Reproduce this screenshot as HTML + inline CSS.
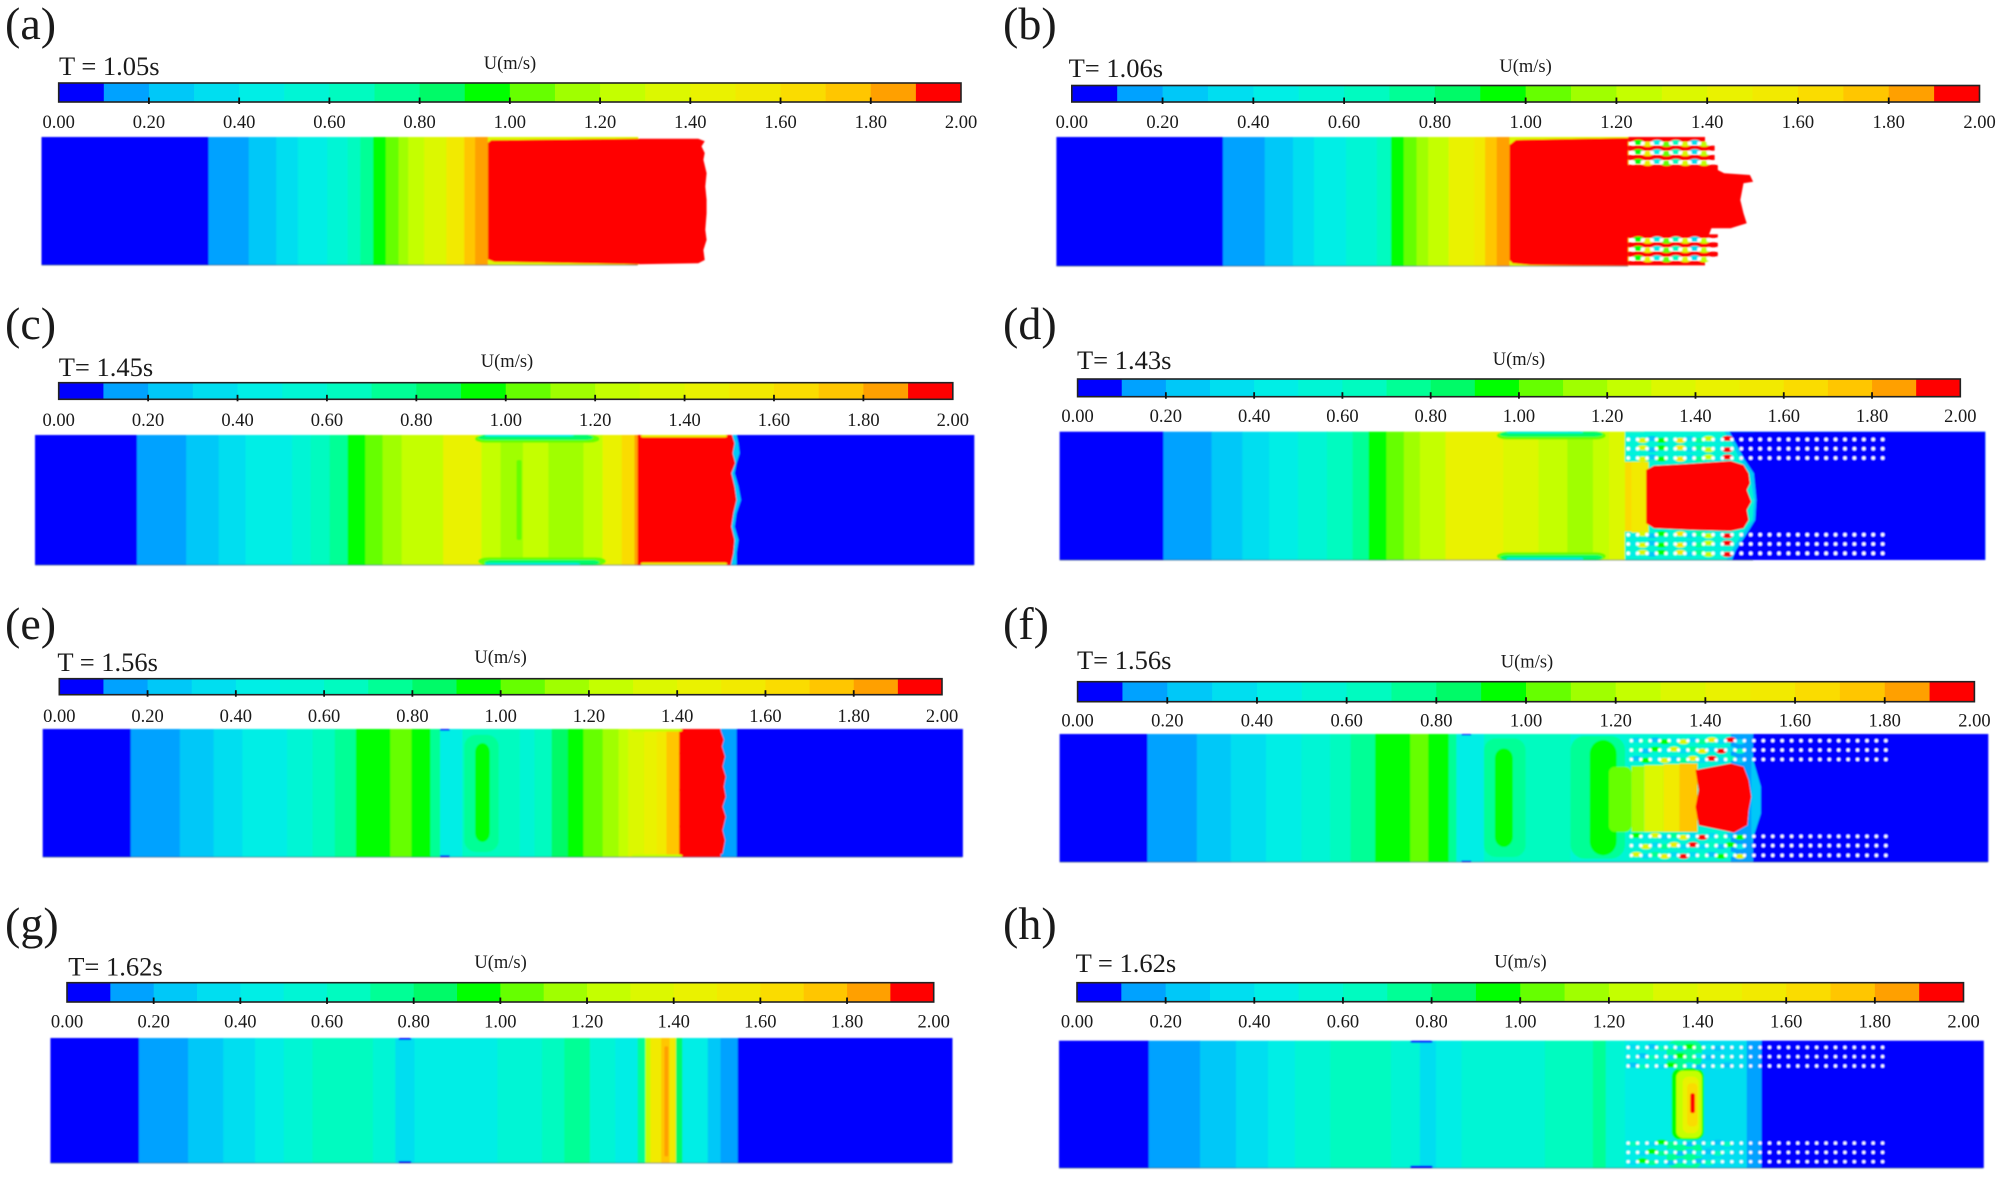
<!DOCTYPE html>
<html lang="en">
<head>
<meta charset="utf-8">
<title>Velocity contour panels</title>
<style>
html,body{margin:0;padding:0;background:#fff;width:2005px;height:1181px;overflow:hidden}
svg{display:block}
text{font-family:"Liberation Serif",serif;fill:#1a1a1a}
</style>
</head>
<body>
<svg id="figure" xmlns="http://www.w3.org/2000/svg" width="2005" height="1181" viewBox="0 0 2005 1181">
<defs><filter id="soft" x="-2%" y="-5%" width="104%" height="110%"><feGaussianBlur stdDeviation="0.7"/></filter></defs>
</svg>
<script>
/* ---------- colour scale ---------- */
const levelColors = ['#0000ff','#00a2ff','#00c8f8','#00def0','#00eee6','#00f5d5','#00fbc0','#00ff96','#00fa68','#00ff00','#66ff00','#a0ff00','#c4ff00','#dcf800','#eaf200','#f2ea00','#fadc00','#ffc600','#ffa000','#ff0000'];
const tickValues = [0,0.2,0.4,0.6,0.8,1.0,1.2,1.4,1.6,1.8,2.0];
const tickLabels = ['0.00','0.20','0.40','0.60','0.80','1.00','1.20','1.40','1.60','1.80','2.00'];
const scaleTitle = 'U(m/s)';

/* ---------- panel text ---------- */
const panelLetters = ['(a)','(b)','(c)','(d)','(e)','(f)','(g)','(h)'];
const panelTimes = ['T = 1.05s','T= 1.06s','T= 1.45s','T= 1.43s','T = 1.56s','T= 1.56s','T= 1.62s','T = 1.62s'];

/* ---------- velocity bands: velocity (m/s) and band end station (m) ---------- */
const velA = [.05,.15,.25,.35,.45,.55,.65,.75,.95,1.05,1.15,1.25,1.35,1.55,1.75,1.85,1.35];
const endA = [3.27,3.90,4.33,4.67,5.13,5.45,5.65,5.85,6.05,6.25,6.40,6.65,7.00,7.28,7.45,7.65,10.0];
const velB = [.05,.15,.25,.35,.45,.55,.65,.95,1.05,1.15,1.25,1.45,1.55,1.75,1.85,1.35];
const endB = [3.48,4.13,4.57,4.90,5.40,5.88,6.10,6.30,6.50,6.68,7.00,7.40,7.57,7.75,7.95,9.8];
const velC = [.05,.15,.25,.35,.45,.55,.65,.75,.95,1.05,1.15,1.25,1.45,1.25,1.15,1.25,1.15,1.25,1.45,1.65,1.85,1.95,.05];
const endC = [2.15,2.92,3.43,3.85,4.58,4.87,5.17,5.45,5.73,6.00,6.30,6.95,7.55,7.85,8.20,8.60,9.15,9.45,9.75,9.95,10.00,11.45,15.27];
const velD = [.05,.15,.25,.35,.45,.55,.65,.75,.95,1.05,1.15,1.25,1.45,1.35,1.25,1.15,1.25,1.35,1.65,.55];
const endD = [2.55,3.30,3.78,4.20,4.65,5.10,5.50,5.75,6.03,6.30,6.55,6.95,7.85,8.40,8.85,9.25,9.50,9.75,10.05,11.75];
const velE = [.05,.15,.25,.35,.45,.55,.65,.75,.95,1.05,.95,.75,.45,.65,.65,.55,.65,.85,.95,1.05,1.15,1.25,1.35,1.45,1.55,1.75,1.95,.15,.05];
const endE = [2.05,2.82,3.35,3.80,4.50,4.90,5.25,5.58,6.12,6.45,6.75,6.90,7.25,7.45,8.15,8.38,8.65,8.90,9.15,9.45,9.70,9.85,10.10,10.30,10.45,10.65,11.30,11.55,15.09];
const velF = [.05,.15,.25,.35,.45,.55,.65,.75,.95,1.05,.95,.75,.45,.65,.65,.55,.15,.05];
const endF = [2.30,3.07,3.60,4.15,4.70,5.15,5.47,5.85,6.40,6.68,7.00,7.12,7.55,8.20,8.90,11.40,11.75,15.41];
const velG = [.05,.15,.25,.35,.45,.55,.65,.55,.35,.45,.55,.65,.75,.55,.45,.75,1.25,1.55,1.75,1.55,.85,.45,.25,.15,.05];
const endG = [2.18,2.95,3.50,4.00,4.45,4.90,5.85,6.20,6.50,7.80,8.50,8.85,9.25,9.65,10.00,10.12,10.20,10.37,10.50,10.60,10.70,11.10,11.30,11.57,14.93];
const velH = [.05,.15,.25,.35,.45,.55,.65,.55,.35,.45,.55,.65,.75,.55,.45,.35,.15,.05];
const endH = [2.32,3.12,3.68,4.18,4.60,5.15,6.10,6.55,6.80,7.20,8.50,9.25,9.45,9.75,10.80,11.65,11.88,15.34];

/* ---------- contour patches: [station from, station to, lateral from, lateral to, velocity, rounding] ---------- */
const patchA = [];
const patchB = [[9.8,11.0,4.11,4.25,1.95,0],[9.8,11.15,4.37,4.52,1.95,0],[9.8,11.15,4.65,4.80,1.95,0],[9.8,11.2,4.94,5.1,1.95,0],[9.8,11.2,7.03,7.14,1.95,0],[9.8,11.2,7.27,7.42,1.95,0],[9.8,11.2,7.55,7.70,1.95,0],[9.8,11.0,7.83,7.96,1.95,0]];
const patchC = [[7.45,9.4,4.05,4.28,1.05,10],[7.5,9.3,4.05,4.20,.85,8],[7.6,9.0,4.05,4.10,.45,4],[7.5,9.5,7.72,7.95,1.05,10],[7.6,9.4,7.80,7.95,.85,8],[7.6,9.1,7.89,7.95,.45,4],[8.10,8.18,4.8,7.2,1.05,2],[10.05,11.4,4.05,4.12,1.45,2],[10.05,11.4,7.88,7.95,1.45,2]];
const patchD = [[7.75,9.45,3.95,4.18,1.05,10],[7.8,9.4,3.95,4.10,.85,8],[7.9,9.1,3.95,4.0,.45,3],[7.75,9.45,7.57,7.8,1.05,10],[7.8,9.4,7.65,7.8,.85,8],[7.9,9.1,7.73,7.8,.45,3],[9.75,11.45,3.95,4.85,.55,0],[9.75,11.45,6.95,7.80,.55,0],[9.85,10.12,4.85,6.98,1.55,0]];
const patchE = [[7.28,7.82,4.05,7.55,.75,12],[7.45,7.68,4.30,7.25,.95,9],[6.9,7.05,3.88,3.93,.05,0],[6.9,7.05,7.65,7.70,.05,0],[9.9,10.7,3.88,3.96,1.25,3],[9.9,10.7,7.62,7.70,1.25,3]];
const patchF = [[7.55,8.2,4.15,7.7,.75,12],[7.72,8.0,4.45,7.4,.95,10],[8.9,9.75,4.08,7.75,.75,14],[9.2,9.62,4.2,7.65,.95,14],[7.2,7.35,4.02,4.06,.05,0],[7.2,7.35,7.81,7.85,.05,0],[9.5,9.85,5.0,6.95,1.05,6],[9.85,10.05,4.98,6.95,1.15,0],[10.05,10.35,4.95,6.95,1.35,0],[10.35,10.6,4.92,6.95,1.55,0],[10.6,10.88,4.9,6.95,1.75,0]];
const patchG = [[6.25,6.45,4.15,4.21,.05,2],[6.25,6.45,7.84,7.90,.05,2],[10.42,10.48,4.4,7.7,1.85,1]];
const patchH = [[6.4,6.75,4.22,4.28,.05,2],[6.4,6.75,7.98,8.05,.05,2],[10.4,10.95,4.22,5.0,.75,8],[10.4,10.95,7.25,8.05,.75,8],[10.48,10.98,5.05,7.2,.95,8],[10.55,10.95,5.12,7.15,1.25,7],[10.65,10.9,5.3,7.0,1.45,6],[10.72,10.88,5.5,6.8,1.65,4],[10.77,10.84,5.8,6.4,1.95,2]];

/* ---------- contour outlines: velocity + station/lateral vertices ---------- */
const shapeA = [{v:1.95,pts:[7.65,4.30,7.7,4.22,10,4.17,10.95,4.17,11.05,4.25,11.0,4.4,11.05,4.6,11.03,4.8,11.08,5.2,11.06,5.6,11.08,6.0,11.08,6.4,11.06,6.9,11.08,7.2,11.03,7.5,11.05,7.8,10.95,7.9,10,7.93,7.75,7.85,7.65,7.78]}];
const shapeB = [{v:1.95,pts:[7.95,4.35,8.05,4.2,9.8,4.14,9.8,4.98,11.1,5.0,11.3,5.2,11.7,5.25,11.75,5.45,11.6,5.5,11.55,6.0,11.6,6.4,11.65,6.7,11.4,6.85,11.1,6.85,11.05,7.1,9.8,7.1,9.8,7.97,8.3,7.95,8.0,7.9,7.95,7.8]}];
const shapeC = [{v:.25,pts:[11.4,4.05,11.55,4.05,11.58,4.3,11.60,4.6,11.55,4.9,11.52,5.2,11.58,5.6,11.62,6.0,11.55,6.4,11.52,6.8,11.58,7.2,11.55,7.6,11.55,7.95,11.4,7.95]},{v:1.95,pts:[11.40,4.05,11.48,4.05,11.52,4.3,11.49,4.6,11.53,4.9,11.47,5.2,11.52,5.6,11.55,6.0,11.50,6.4,11.47,6.8,11.52,7.2,11.50,7.6,11.46,7.95,11.40,7.95]}];
const shapeD = [{v:.25,pts:[11.30,3.95,11.42,4.3,11.55,4.8,11.70,5.2,11.76,6.0,11.74,6.6,11.55,7.1,11.42,7.5,11.33,7.8,15.37,7.8,15.37,3.95]},{v:.05,pts:[11.38,3.95,11.48,4.3,11.62,4.8,11.76,5.2,11.80,6.0,11.78,6.6,11.62,7.1,11.48,7.5,11.42,7.8,15.37,7.8,15.37,3.95]},{v:1.95,pts:[10.08,5.1,10.2,4.97,10.7,4.92,11.4,4.83,11.6,4.95,11.68,5.2,11.7,5.5,11.65,5.7,11.72,6.05,11.65,6.3,11.68,6.6,11.6,6.85,11.4,6.93,10.8,6.9,10.2,6.85,10.08,6.7]}];
const shapeE = [{v:1.95,pts:[10.75,4.1,11.0,3.93,11.3,3.93,11.35,4.2,11.32,4.4,11.37,4.7,11.33,5.0,11.38,5.3,11.35,5.6,11.38,5.9,11.33,6.2,11.38,6.5,11.33,6.9,11.37,7.2,11.33,7.6,11.2,7.65,10.85,7.6,10.72,7.3,10.65,6.8,10.70,6.2,10.65,5.7,10.70,5.2,10.65,4.6]}];
const shapeF = [{v:.25,pts:[11.72,4.6,11.87,5.6,11.87,6.4,11.72,7.3]},{v:1.95,pts:[10.85,5.1,11.4,4.9,11.6,5.0,11.68,5.4,11.72,5.9,11.68,6.3,11.66,6.75,11.45,6.97,10.9,6.75,10.85,6.2,10.9,5.7]}];
const shapeG = [];
const shapeH = [];

/* ---------- cylinder array rows (lateral position, m) and wake streak velocities ---------- */
const rowsB = [4.30,4.58,4.87,7.20,7.48,7.76];
const rowsD = [4.18,4.46,4.74,7.04,7.32,7.60];
const rowsF = [4.22,4.50,4.78,7.08,7.36,7.65];
const rowsH = [4.42,4.70,4.98,7.30,7.58,7.86];
const wakeB = [.95,1.45,.45,1.05,.65,1.35,.35,1.25];
const wakeD = [.45,1.35,.25,.95,.55,1.55,.35,.75,1.25,.45,1.95];
const wakeF = [.35,.65,.25,.95,.45,1.35,.3,.75,1.45,.35,1.95];
const wakeH = [.35,.45,.25,.65,.45,.35,.95,.75,.45,.25];

/* ---------- page layout ---------- */
const panelLayouts = [
 {id:'a',lx:5,ly:39,bar:[58.7,961,83,102],lab:122,ux:510,uy:64,tx:59,ty:66,field:[41.5,706.6,137,265],st:[.65,11.08],lat:[4.12,7.95],vel:velA,end:endA,patch:patchA,shape:shapeA},
 {id:'b',lx:1003,ly:39,bar:[1071.8,1979.5,85.5,102],lab:122,ux:1525.6,uy:67,tx:1068.6,ty:68,field:[1056.4,1755,137,266],st:[.88,11.78],lat:[4.11,7.98],vel:velB,end:endB,patch:patchB,shape:shapeB,rows:rowsB,wake:wakeB,cs:9.88,mix:11.0,dot:1.9},
 {id:'c',lx:5,ly:339,bar:[58.7,952.8,382.7,399.3],lab:420,ux:507,uy:362,tx:58.7,ty:367,field:[35,973.8,435,565],st:[.55,15.27],lat:[4.05,7.95],vel:velC,end:endC,patch:patchC,shape:shapeC},
 {id:'d',lx:1003,ly:339,bar:[1077.6,1960.3,379,396.7],lab:416,ux:1519,uy:360,tx:1077,ty:360,field:[1059.6,1985.3,431.7,560],st:[.93,15.37],lat:[3.95,7.80],vel:velD,end:endD,patch:patchD,shape:shapeD,rows:rowsD,wake:wakeD,cs:9.80,mix:11.35,dot:1.8},
 {id:'e',lx:5,ly:639,bar:[59.3,942,678.7,694.7],lab:716,ux:500.6,uy:658,tx:57.4,ty:662,field:[42.7,962.4,729,857],st:[.67,15.09],lat:[3.88,7.70],vel:velE,end:endE,patch:patchE,shape:shapeE},
 {id:'f',lx:1003,ly:639,bar:[1077.6,1974.4,681.7,701.7],lab:720.7,ux:1527,uy:662.7,tx:1077,ty:660,field:[1059.6,1987.8,734,862],st:[.93,15.41],lat:[4.02,7.85],vel:velF,end:endF,patch:patchF,shape:shapeF,rows:rowsF,wake:wakeF,cs:9.85,mix:11.55,dot:1.7},
 {id:'g',lx:5,ly:939,bar:[67,933.7,982.7,1002],lab:1021.7,ux:500.6,uy:963,tx:68.2,ty:966.7,field:[50.4,952,1038,1163],st:[.79,14.93],lat:[4.15,7.90],vel:velG,end:endG,patch:patchG,shape:shapeG},
 {id:'h',lx:1003,ly:939,bar:[1077,1963.5,982.7,1001.7],lab:1021.7,ux:1520.5,uy:962.7,tx:1075.6,ty:963,field:[1059,1983.3,1040.7,1168],st:[.92,15.34],lat:[4.22,8.05],vel:velH,end:endH,patch:patchH,shape:shapeH,rows:rowsH,wake:wakeH,cs:9.80,mix:11.3,dot:1.6}
];
const cylinderPitch = 0.147;
const cylinderCount = 28;

/* ---------- helpers ---------- */
const NS = 'http://www.w3.org/2000/svg';
const root = document.getElementById('figure');
function colorOf(v){ return levelColors[Math.max(0,Math.min(19,Math.floor(v*10)))]; }
function make(tag,parent,attrs){
  const el = document.createElementNS(NS,tag);
  for(const k in attrs){ el.setAttribute(k,attrs[k]); }
  parent.appendChild(el);
  return el;
}

panelLayouts.forEach(function(p,pi){
  const g = make('g',root,{});
  
  

  const letter = make('text',g,{x:p.lx,y:p.ly,'font-size':46});
  letter.textContent = panelLetters[pi];
  
  

  const time = make('text',g,{x:p.tx,y:p.ty+9,'font-size':26.5});
  time.textContent = panelTimes[pi];
  
  

  const unit = make('text',g,{x:p.ux,y:p.uy+5,'font-size':18.5,'text-anchor':'middle'});
  unit.textContent = scaleTitle;
  
  

  /* colour bar */
  const barX = function(v){ return p.bar[0]+(p.bar[1]-p.bar[0])*v/2; };
  const bar = make('g',g,{});
  
  
  levelColors.forEach(function(c,i){
    const seg = make('rect',bar,{x:barX(i*0.1),y:p.bar[2],width:barX(0.1)-barX(0)+0.4,height:p.bar[3]-p.bar[2],fill:c});
    
    
  });
  const frame = make('rect',bar,{x:p.bar[0],y:p.bar[2],width:p.bar[1]-p.bar[0],height:p.bar[3]-p.bar[2],fill:'none',stroke:'#222','stroke-width':1.6});
  
  
  tickValues.forEach(function(v,i){
    if(i>0 && i<tickValues.length-1){
      const t = make('line',bar,{x1:barX(v),x2:barX(v),y1:p.bar[3]-4.5,y2:p.bar[3]+2,stroke:'#111','stroke-width':1.8});
      
      
    }
    const lab = make('text',bar,{x:barX(v),y:p.lab+6,'font-size':18.5,'text-anchor':'middle',fill:'#333'});
    lab.textContent = tickLabels[i];
    
    
  });

  /* contour field */
  const xs = function(s){ return p.field[0]+(s-p.st[0])*(p.field[1]-p.field[0])/(p.st[1]-p.st[0]); };
  const ys = function(w){ return p.field[2]+(w-p.lat[0])*(p.field[3]-p.field[2])/(p.lat[1]-p.lat[0]); };
  const field = make('g',g,{filter:'url(#soft)'});
  
  

  let prev = p.st[0];
  p.end.forEach(function(e,i){
    const band = make('rect',field,{x:xs(prev),y:p.field[2],width:xs(e)-xs(prev)+0.5,height:p.field[3]-p.field[2],fill:colorOf(p.vel[i])});
    
    
    prev = e;
  });
  p.patch.forEach(function(q){
    const r = make('rect',field,{x:xs(q[0]),y:ys(q[2]),width:xs(q[1])-xs(q[0]),height:ys(q[3])-ys(q[2]),rx:q[5],fill:colorOf(q[4])});
    
    
  });
  p.shape.forEach(function(s){
    const pts = [];
    for(let i=0;i<s.pts.length;i+=2){ pts.push(xs(s.pts[i]).toFixed(1)+','+ys(s.pts[i+1]).toFixed(1)); }
    const poly = make('polygon',field,{points:pts.join(' '),fill:colorOf(s.v)});
    
    
  });

  /* channel wall */
  const wall = make('line',field,{x1:p.field[0],x2:xs(p.end[p.end.length-1]),y1:p.field[3],y2:p.field[3],stroke:'#23405f','stroke-width':1,opacity:.6});
  
  

  /* cylinder array */
  if(p.rows){
    let k = 0;
    p.rows.forEach(function(w){
      for(let i=0;i<cylinderCount;i++){
        const s = p.cs+i*cylinderPitch;
        if(s<p.mix){
          const wake = make('ellipse',field,{cx:xs(s)+5,cy:ys(w)+(k%2?1:-1),rx:5.5,ry:2.6,fill:colorOf(p.wake[k%p.wake.length])});
          
          
          k++;
        }
      }
    });
    p.rows.forEach(function(w){
      for(let i=0;i<cylinderCount;i++){
        const s = p.cs+i*cylinderPitch;
        const dot = make('circle',field,{cx:xs(s),cy:ys(w),r:p.dot,fill:'#fff'});
        
        
      }
    });
  }
});
</script>
</body>
</html>
